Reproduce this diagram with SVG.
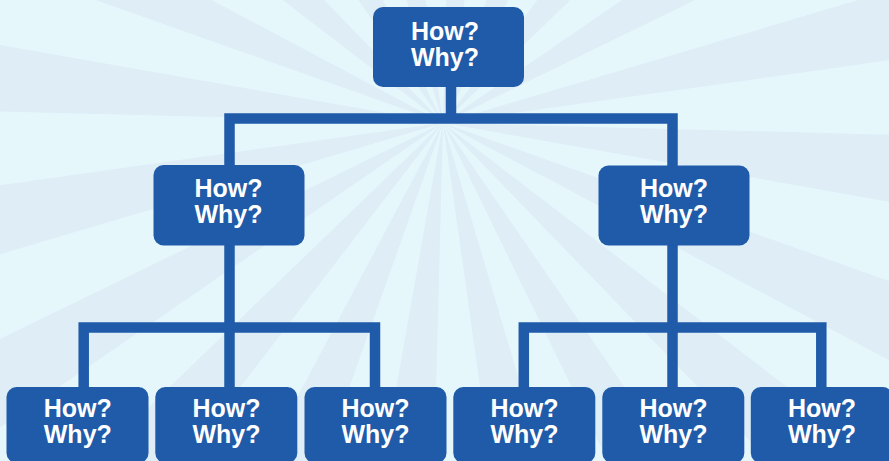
<svg xmlns="http://www.w3.org/2000/svg" xmlns:xlink="http://www.w3.org/1999/xlink" width="889" height="461" viewBox="0 0 889 461">
  <style>
    .box { fill: #1F5BA9; }
    .lbl { fill: #FFFFFF; font-family: "Liberation Sans", Arial, sans-serif; font-weight: bold; font-size: 25px; text-anchor: middle; }
    .conn { fill: none; stroke: #1F5BA9; stroke-width: 10.5; stroke-linejoin: miter; stroke-linecap: butt; }
    .ray { fill: #DEEDF6; }
  </style>
  <defs>
    <path id="ray" class="ray" d="M443,123 L1642.6,154.4 L1624.8,331.4 Z"/>
  </defs>
  <g id="background">
    <rect x="0" y="0" width="889" height="461" fill="#E6F7FC"/>
    <use xlink:href="#ray" transform="rotate(0 443 123)"/>
    <use xlink:href="#ray" transform="rotate(18 443 123)"/>
    <use xlink:href="#ray" transform="rotate(36 443 123)"/>
    <use xlink:href="#ray" transform="rotate(54 443 123)"/>
    <use xlink:href="#ray" transform="rotate(72 443 123)"/>
    <use xlink:href="#ray" transform="rotate(90 443 123)"/>
    <use xlink:href="#ray" transform="rotate(108 443 123)"/>
    <use xlink:href="#ray" transform="rotate(126 443 123)"/>
    <use xlink:href="#ray" transform="rotate(144 443 123)"/>
    <use xlink:href="#ray" transform="rotate(162 443 123)"/>
    <use xlink:href="#ray" transform="rotate(180 443 123)"/>
    <use xlink:href="#ray" transform="rotate(198 443 123)"/>
    <use xlink:href="#ray" transform="rotate(216 443 123)"/>
    <use xlink:href="#ray" transform="rotate(234 443 123)"/>
    <use xlink:href="#ray" transform="rotate(252 443 123)"/>
    <use xlink:href="#ray" transform="rotate(270 443 123)"/>
    <use xlink:href="#ray" transform="rotate(288 443 123)"/>
    <use xlink:href="#ray" transform="rotate(306 443 123)"/>
    <use xlink:href="#ray" transform="rotate(324 443 123)"/>
    <use xlink:href="#ray" transform="rotate(342 443 123)"/>
  </g>
  <g id="connectors">
    <path class="conn" d="M451,86 V118.5"/>
    <path class="conn" d="M229.5,166 V118.5 H672.5 V166"/>
    <path class="conn" d="M229.5,244 V388"/>
    <path class="conn" d="M83.7,388 V327.5 H375 V388"/>
    <path class="conn" d="M672.5,244 V388"/>
    <path class="conn" d="M523.8,388 V327.5 H821.3 V388"/>
  </g>
  <g id="n-top">
    <rect class="box" x="373" y="7" width="151" height="80" rx="10"/>
    <text class="lbl" x="445" y="39.5">How?</text>
    <text class="lbl" x="445" y="65.5">Why?</text>
  </g>
  <g id="n-mid-left">
    <rect class="box" x="153.5" y="165" width="151" height="80.5" rx="10"/>
    <text class="lbl" x="228.5" y="197">How?</text>
    <text class="lbl" x="228.5" y="223">Why?</text>
  </g>
  <g id="n-mid-right">
    <rect class="box" x="598.5" y="165.5" width="151" height="80" rx="10"/>
    <text class="lbl" x="674" y="197">How?</text>
    <text class="lbl" x="674" y="223">Why?</text>
  </g>
  <g id="n-b1">
    <rect class="box" x="6.5" y="387" width="142" height="76" rx="10"/>
    <text class="lbl" x="77.8" y="417">How?</text>
    <text class="lbl" x="77.8" y="443">Why?</text>
  </g>
  <g id="n-b2">
    <rect class="box" x="155.3" y="387" width="142" height="76" rx="10"/>
    <text class="lbl" x="226.5" y="417">How?</text>
    <text class="lbl" x="226.5" y="443">Why?</text>
  </g>
  <g id="n-b3">
    <rect class="box" x="304.5" y="387" width="142" height="76" rx="10"/>
    <text class="lbl" x="375.5" y="417">How?</text>
    <text class="lbl" x="375.5" y="443">Why?</text>
  </g>
  <g id="n-b4">
    <rect class="box" x="453.3" y="387" width="142" height="76" rx="10"/>
    <text class="lbl" x="524.5" y="417">How?</text>
    <text class="lbl" x="524.5" y="443">Why?</text>
  </g>
  <g id="n-b5">
    <rect class="box" x="602.3" y="387" width="142" height="76" rx="10"/>
    <text class="lbl" x="673.5" y="417">How?</text>
    <text class="lbl" x="673.5" y="443">Why?</text>
  </g>
  <g id="n-b6">
    <rect class="box" x="750.8" y="387" width="142" height="76" rx="10"/>
    <text class="lbl" x="822" y="417">How?</text>
    <text class="lbl" x="822" y="443">Why?</text>
  </g>
</svg>
